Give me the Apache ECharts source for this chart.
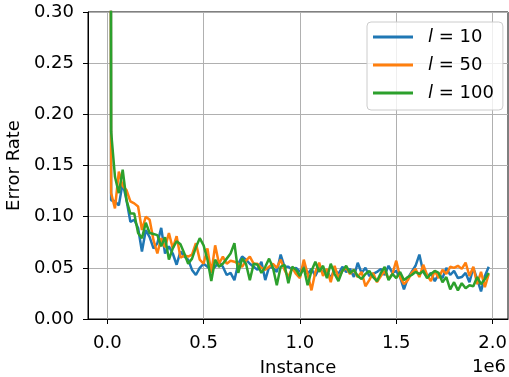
<!DOCTYPE html>
<html>
<head>
<meta charset="utf-8">
<script src="https://cdn.jsdelivr.net/npm/echarts@6/dist/echarts.min.js"></script>
<style>html,body{margin:0;padding:0;background:#fff}#c{width:509px;height:377px}</style>
</head>
<body>
<div id="c"></div>
<script>
// Evaluation instances: one early evaluation, then every 20,000 instances
const firstInstance = 18000;
const step = 20000;
const nPoints = 99;
const instances = [firstInstance];
for (let k = 0; k < nPoints; k++) instances.push(step * (k + 1));

const seriesNames = ['l = 10', 'l = 50', 'l = 100'];
const legendLabels = ['10', '50', '100'];

const errL10 = [0.45,
 0.116,0.115,0.111,0.133,0.116,0.095,0.097,0.089,0.066,0.087,
 0.080,0.069,0.074,0.089,0.064,0.071,0.064,0.053,0.066,0.061,
 0.058,0.048,0.043,0.050,0.054,0.051,0.048,0.051,0.056,0.051,
 0.043,0.045,0.038,0.054,0.061,0.058,0.054,0.051,0.048,0.056,
 0.038,0.051,0.050,0.046,0.063,0.051,0.051,0.048,0.050,0.046,
 0.052,0.044,0.049,0.042,0.050,0.046,0.047,0.040,0.048,0.044,
 0.051,0.046,0.049,0.041,0.055,0.045,0.050,0.042,0.044,0.046,
 0.049,0.043,0.052,0.045,0.047,0.041,0.029,0.040,0.046,0.052,
 0.063,0.046,0.041,0.045,0.037,0.044,0.040,0.050,0.043,0.047,
 0.040,0.041,0.045,0.036,0.050,0.039,0.027,0.042,0.051];

const errL50 = [0.40,
 0.123,0.108,0.144,0.130,0.126,0.115,0.113,0.110,0.087,0.100,
 0.097,0.077,0.064,0.079,0.070,0.084,0.069,0.081,0.060,0.062,
 0.061,0.063,0.074,0.058,0.054,0.069,0.045,0.072,0.054,0.061,
 0.054,0.057,0.056,0.054,0.051,0.057,0.061,0.054,0.054,0.050,
 0.048,0.051,0.054,0.050,0.058,0.048,0.041,0.050,0.044,0.040,
 0.058,0.044,0.028,0.046,0.055,0.042,0.049,0.036,0.052,0.040,
 0.047,0.050,0.044,0.048,0.041,0.046,0.032,0.038,0.045,0.036,
 0.042,0.047,0.039,0.044,0.057,0.041,0.034,0.038,0.045,0.049,
 0.041,0.053,0.043,0.037,0.047,0.040,0.048,0.044,0.051,0.050,
 0.052,0.049,0.055,0.042,0.051,0.034,0.046,0.031,0.044];

const errL100 = [0.50,
 0.183,0.139,0.123,0.146,0.116,0.103,0.103,0.084,0.079,0.094,
 0.084,0.083,0.082,0.071,0.080,0.058,0.069,0.076,0.073,0.064,
 0.054,0.059,0.070,0.079,0.072,0.058,0.037,0.058,0.051,0.054,
 0.059,0.064,0.074,0.045,0.059,0.054,0.038,0.054,0.053,0.045,
 0.051,0.059,0.050,0.033,0.051,0.053,0.035,0.051,0.048,0.042,
 0.050,0.033,0.047,0.056,0.046,0.052,0.040,0.054,0.044,0.037,
 0.047,0.052,0.045,0.048,0.042,0.039,0.044,0.047,0.041,0.037,
 0.045,0.051,0.038,0.044,0.040,0.046,0.038,0.041,0.043,0.046,
 0.044,0.047,0.040,0.044,0.047,0.045,0.036,0.041,0.029,0.036,
 0.028,0.035,0.030,0.033,0.032,0.041,0.034,0.039,0.045];

const xTicks = [0, 500000, 1000000, 1500000, 2000000];
const colors = ['#1f77b4', '#ff7f0e', '#2ca02c'];
const FONT = 'DejaVu Sans';

function pairs(vals) { return vals.map((v, i) => [instances[i], v]); }

const chart = echarts.init(document.getElementById('c'), null, {renderer: 'canvas'});
const allVals = [errL10, errL50, errL100];
chart.setOption({
  animation: false,
  textStyle: {fontFamily: FONT},
  grid: {left: 88, top: 12, right: 1, bottom: 58, outerBoundsMode: 'none', containLabel: false,
    show: true, borderColor: '#000', borderWidth: 1, backgroundColor: 'transparent'},
  xAxis: {
    type: 'value', min: -100000, max: 2080000,
    name: 'Instance', nameLocation: 'middle', nameGap: 40,
    nameTextStyle: {fontFamily: FONT, fontSize: 18, color: '#000'},
    axisLine: {show: true, onZero: false, lineStyle: {color: '#000', width: 1}},
    axisTick: {show: true, length: 5, lineStyle: {color: '#000', width: 1}, customValues: xTicks},
    axisLabel: {fontFamily: FONT, fontSize: 18, color: '#000', margin: 15, customValues: xTicks,
      formatter: v => (v / 1e6).toFixed(1)},
    splitLine: {show: true, lineStyle: {color: '#b0b0b0', width: 1}}
  },
  yAxis: {
    type: 'value', min: 0, max: 0.3, interval: 0.05,
    name: 'Error Rate', nameLocation: 'middle', nameGap: 63, nameRotate: 90,
    nameTextStyle: {fontFamily: FONT, fontSize: 18, color: '#000'},
    axisLine: {show: true, onZero: false, lineStyle: {color: '#000', width: 1}},
    axisTick: {show: true, length: 5, lineStyle: {color: '#000', width: 1}},
    axisLabel: {fontFamily: FONT, fontSize: 18, color: '#000', margin: 14, formatter: v => v.toFixed(2)},
    splitLine: {show: true, lineStyle: {color: '#b0b0b0', width: 1}}
  },
  legend: {
    left: 367, top: 22, orient: 'vertical',
    backgroundColor: 'rgba(255,255,255,0.8)', borderColor: '#cccccc', borderWidth: 1, borderRadius: 4,
    padding: [5, 9, 7, 6], itemGap: 8, itemWidth: 40, itemHeight: 3, icon: 'rect',
    data: seriesNames,
    formatter: name => '{i|l}{t| = ' + legendLabels[seriesNames.indexOf(name)] + '}',
    textStyle: {fontFamily: FONT, fontSize: 18, color: '#000', lineHeight: 20, padding: [0, 0, 0, 10],
      rich: {i: {fontFamily: FONT, fontStyle: 'italic', fontSize: 18, lineHeight: 20}, t: {fontFamily: FONT, fontSize: 18, lineHeight: 20}}}
  },
  graphic: [{type: 'text', right: 3, top: 358, style: {text: '1e6', font: '18px "DejaVu Sans"', fill: '#000'}}],
  series: seriesNames.map((n, i) => ({
    name: n, type: 'line', data: pairs(allVals[i]), showSymbol: false, symbol: 'none',
    color: colors[i], lineStyle: {width: 2.5, color: colors[i]}, clip: true, z: 2 + i
  }))
});
</script>
</body>
</html>
